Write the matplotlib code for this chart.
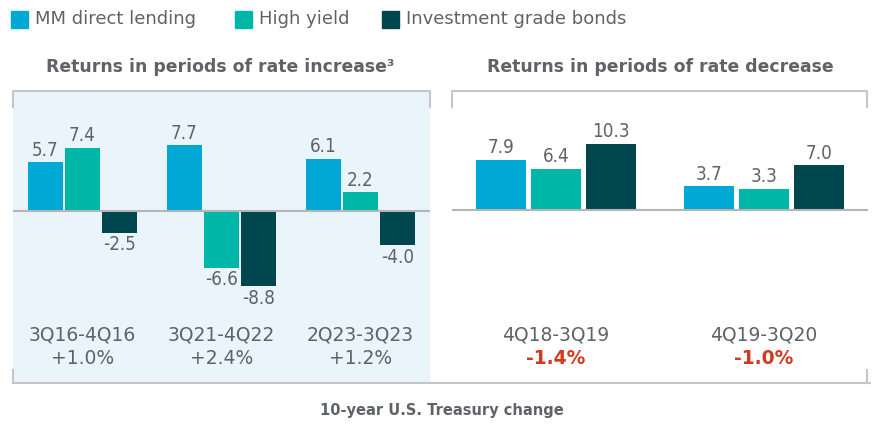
"""
Direct lending vs bonds returns in rising / falling rate periods
"""

import matplotlib
matplotlib.use('Agg')
import matplotlib.pyplot as plt
from matplotlib.lines import Line2D
from matplotlib.patches import Rectangle
from matplotlib.transforms import blended_transform_factory

# ---- data ----
series = ['MM direct lending', 'High yield', 'Investment grade bonds']
colors = ['#00A8D6', '#00B6A6', '#00464F']

up_periods = ['3Q16-4Q16', '3Q21-4Q22', '2Q23-3Q23']
up_change = ['+1.0%', '+2.4%', '+1.2%']
up_direct = [5.7, 7.7, 6.1]
up_hy = [7.4, -6.6, 2.2]
up_ig = [-2.5, -8.8, -4.0]

down_periods = ['4Q18-3Q19', '4Q19-3Q20']
down_change = ['-1.4%', '-1.0%']
down_direct = [7.9, 3.7]
down_hy = [6.4, 3.3]
down_ig = [10.3, 7.0]

W, H = 874, 425
TXT = '#5F6368'
LINE = '#C4C6C8'
RED = '#D13A1C'


def fx(x):
    return x / W


def fy(y):
    return 1 - y / H


def draw_panel(ax, periods, changes, values, offset, width, ylim, change_color, change_bold):
    ax.set_xlim(-0.5, len(periods) - 0.5)
    ax.set_ylim(*ylim)
    for s, vals in enumerate(values):
        xs = [i + (s - 1) * offset for i in range(len(periods))]
        ax.bar(xs, vals, width=width, color=colors[s], zorder=2)
        for x, v in zip(xs, vals):
            if v >= 0:
                ax.annotate(f'{v:.1f}', (x, v), xytext=(0, 2), textcoords='offset points',
                            ha='center', va='bottom', fontsize=13.5, color=TXT,
                            family='DejaVu Sans', fontstretch='condensed')
            else:
                ax.annotate(f'{v:.1f}', (x, v), xytext=(0, -2), textcoords='offset points',
                            ha='center', va='top', fontsize=13.5, color=TXT,
                            family='DejaVu Sans', fontstretch='condensed')
    ax.axhline(0, color='#B3B5B7', lw=1.5, zorder=3)
    trans = blended_transform_factory(ax.transData, ax.figure.transFigure)
    for i, (p, c) in enumerate(zip(periods, changes)):
        ax.text(i, fy(335), p, transform=trans, ha='center', va='center',
                fontsize=13.5, color=TXT)
        ax.text(i, fy(358), c, transform=trans, ha='center', va='center',
                fontsize=13.5, color=change_color,
                fontweight='bold' if change_bold else 'normal')
    ax.set_xticks([])
    ax.set_yticks([])
    for sp in ax.spines.values():
        sp.set_visible(False)


fig = plt.figure(figsize=(W / 100, H / 100), dpi=100)

# left panel (rate increase)
ax1 = fig.add_axes([fx(13), fy(383), fx(417), 292 / H])
ax1.set_facecolor('#E9F5FB')
draw_panel(ax1, up_periods, up_change, [up_direct, up_hy, up_ig],
           offset=0.266, width=0.245, ylim=(-20.1, 14.05),
           change_color=TXT, change_bold=False)

# right panel (rate decrease)
ax2 = fig.add_axes([fx(452), fy(383), fx(416), 292 / H])
ax2.set_facecolor('white')
draw_panel(ax2, down_periods, down_change, [down_direct, down_hy, down_ig],
           offset=0.264, width=0.24, ylim=(-27.0, 18.6),
           change_color=RED, change_bold=True)

# bracket-style frame lines
def fline(xs, ys, color=LINE):
    fig.add_artist(Line2D([fx(x) for x in xs], [fy(y) for y in ys],
                          transform=fig.transFigure, color=color, lw=1.5))

fline([13, 13, 430, 430], [107, 91, 91, 107])
fline([452, 452, 867, 867], [107, 91, 91, 107])
fline([13, 13], [370, 383])
fline([867, 867], [370, 383])
fline([13, 870], [383, 383])

# titles
fig.text(fx(220), fy(67), 'Returns in periods of rate increase³', ha='center', va='center',
         fontsize=12.4, fontweight='bold', color=TXT)
fig.text(fx(660), fy(67), 'Returns in periods of rate decrease', ha='center', va='center',
         fontsize=12.4, fontweight='bold', color=TXT)
fig.text(fx(442), fy(411), '10-year U.S. Treasury change', ha='center', va='center',
         fontsize=10.5, fontweight='bold', color=TXT)

# legend
leg_x = [11, 235, 382]
for x, name, c in zip(leg_x, series, colors):
    fig.add_artist(Rectangle((fx(x), fy(28)), fx(17), 17 / H, transform=fig.transFigure,
                             color=c))
    fig.text(fx(x + 24), fy(19), name, ha='left', va='center', fontsize=13, color=TXT)

plt.savefig('out.png', dpi=100)
plt.close()
